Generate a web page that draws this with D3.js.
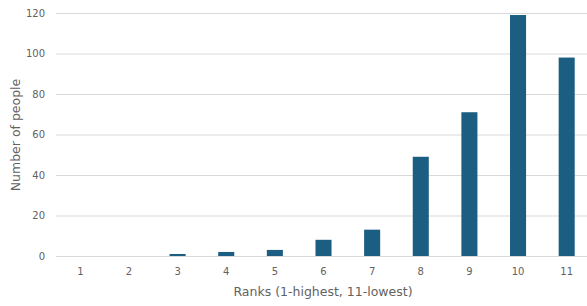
<!DOCTYPE html>
<html lang="en">
<head>
  <meta charset="UTF-8">
  <title>Ranks</title>
  <script src="https://d3js.org/d3.v7.min.js"></script>
  <style>
    body { margin: 0; background: #fff; }
    svg { display: block; }
    text { font-family: "DejaVu Sans", sans-serif; fill: #626262; }
  </style>
</head>
<body>
  <svg width="587" height="306"></svg>

  <script>
    const ranks = ['1', '2', '3', '4', '5', '6', '7', '8', '9', '10', '11'];
    const people = [0, 0, 1, 2, 3, 8, 13, 49, 71, 119, 98];
    const yTicks = [0, 20, 40, 60, 80, 100, 120];

    const margin = { left: 56, right: 591, top: 13, bottom: 256 };

    const svg = d3.select('svg');

    const x = d3.scaleBand()
      .domain(ranks)
      .range([margin.left, margin.right])
      .paddingInner(0.67)
      .paddingOuter(0.335);

    const y = d3.scaleLinear()
      .domain([0, 120])
      .range([margin.bottom, margin.top]);

    // gridlines
    svg.append('g')
      .selectAll('line')
      .data(yTicks)
      .enter()
      .append('line')
      .attr('x1', margin.left)
      .attr('x2', margin.right)
      .attr('y1', d => y(d) + 0.5)
      .attr('y2', d => y(d) + 0.5)
      .attr('stroke', '#d9d9d9')
      .attr('stroke-width', 1);

    // y tick labels
    svg.append('g')
      .selectAll('text')
      .data(yTicks)
      .enter()
      .append('text')
      .attr('x', 45)
      .attr('y', d => y(d))
      .attr('dy', '0.35em')
      .attr('text-anchor', 'end')
      .style('font-size', '10px')
      .text(d => d);

    // x tick labels
    svg.append('g')
      .selectAll('text')
      .data(ranks)
      .enter()
      .append('text')
      .attr('x', d => x(d) + x.bandwidth() / 2)
      .attr('y', 271)
      .attr('dy', '0.35em')
      .attr('text-anchor', 'middle')
      .style('font-size', '10px')
      .text(d => d);

    // bars
    svg.selectAll('.bar')
      .data(people)
      .enter()
      .append('rect')
      .attr('class', 'bar')
      .attr('x', (d, i) => x(ranks[i]))
      .attr('width', x.bandwidth())
      .attr('y', d => y(d))
      .attr('height', d => y(0) - y(d))
      .attr('fill', '#1b5e82');

    // axis titles
    svg.append('text')
      .attr('x', 323)
      .attr('y', 292)
      .attr('dy', '0.35em')
      .attr('text-anchor', 'middle')
      .style('font-size', '12.5px')
      .text('Ranks (1-highest, 11-lowest)');

    svg.append('text')
      .attr('transform', 'translate(16, 135) rotate(-90)')
      .attr('dy', '0.35em')
      .attr('text-anchor', 'middle')
      .style('font-size', '12.5px')
      .text('Number of people');
  </script>
</body>
</html>
